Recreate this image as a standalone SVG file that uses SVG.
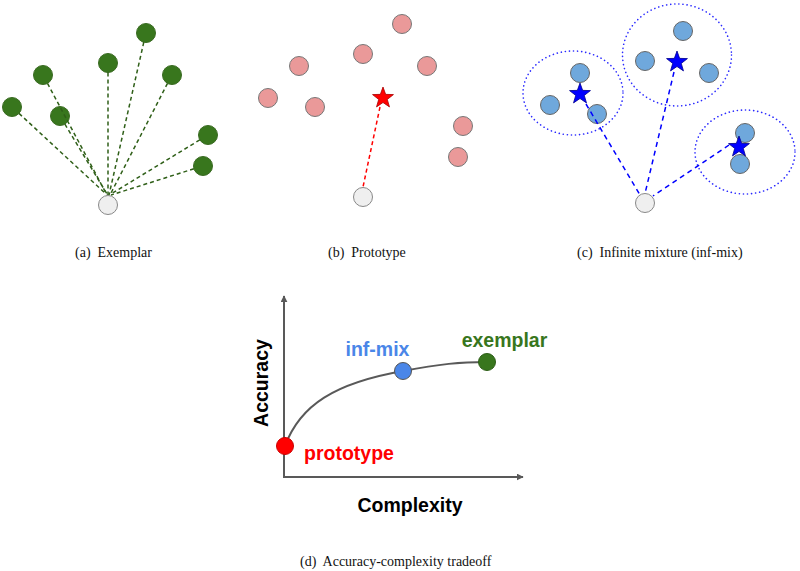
<svg xmlns="http://www.w3.org/2000/svg" width="800" height="571" viewBox="0 0 800 571">
<style>
.g{fill:#38761d;stroke:#3a6b22;stroke-width:1}
.q{fill:#efefef;stroke:#888;stroke-width:1}
.p{fill:#ea9999;stroke:#777;stroke-width:1}
.b{fill:#6fa8dc;stroke:#666;stroke-width:1}
.dg{stroke:#2f5f18;stroke-width:1.5;stroke-dasharray:4 3;fill:none}
.dr{stroke:#ff0000;stroke-width:1.5;stroke-dasharray:4 3;fill:none}
.db{stroke:#0000ff;stroke-width:1.5;stroke-dasharray:5 4;fill:none}
.el{fill:none;stroke:#2a2aff;stroke-width:1.6;stroke-dasharray:0.1 4;stroke-linecap:round}
.cap{font-family:"Liberation Serif","Times New Roman",serif;font-size:14px;fill:#111}
.lbl{font-family:"Liberation Sans",Arial,sans-serif;font-weight:bold;font-size:19.5px}
.ax{stroke:#595959;stroke-width:2;fill:none}
</style>
<defs>
<polygon id="star" points="0,-11 2.65,-3.64 10.46,-3.4 4.28,1.39 6.47,8.9 0,4.5 -6.47,8.9 -4.28,1.39 -10.46,-3.4 -2.65,-3.64"/>
<marker id="ah" viewBox="0 0 10 10" refX="9" refY="5" markerWidth="7" markerHeight="7" markerUnits="userSpaceOnUse" orient="auto">
<path d="M0,0 L10,5 L0,10 z" fill="#595959"/>
</marker>
</defs>

<!-- (a) Exemplar -->
<g id="a-nodes">
<circle class="g" cx="146" cy="33" r="9.5"/>
<circle class="g" cx="108" cy="63" r="9.5"/>
<circle class="g" cx="43" cy="75" r="9.5"/>
<circle class="g" cx="172" cy="75" r="9.5"/>
<circle class="g" cx="12" cy="107" r="9.5"/>
<circle class="g" cx="60" cy="116" r="9.5"/>
<circle class="g" cx="208" cy="135" r="9.5"/>
<circle class="g" cx="203" cy="166" r="9.5"/>
<circle class="q" cx="108" cy="205" r="9.5"/>
</g>
<g id="a-connectors">
<line class="dg" x1="143.8" y1="42.2" x2="109" y2="195"/>
<line class="dg" x1="108" y1="72.5" x2="108" y2="195"/>
<line class="dg" x1="47.5" y1="83.4" x2="107" y2="195"/>
<line class="dg" x1="167.5" y1="83.4" x2="110" y2="195"/>
<line class="dg" x1="19" y1="113.4" x2="106" y2="194"/>
<line class="dg" x1="64.9" y1="124.1" x2="107" y2="194"/>
<line class="dg" x1="199.8" y1="139.9" x2="111" y2="194"/>
<line class="dg" x1="193.9" y1="168.8" x2="111" y2="195"/>
</g>

<!-- (b) Prototype -->
<g id="b-nodes">
<circle class="p" cx="402" cy="24" r="9.5"/>
<circle class="p" cx="363" cy="54" r="9.5"/>
<circle class="p" cx="299" cy="66" r="9.5"/>
<circle class="p" cx="427" cy="66" r="9.5"/>
<circle class="p" cx="268" cy="98" r="9.5"/>
<circle class="p" cx="315" cy="107" r="9.5"/>
<circle class="p" cx="463" cy="126" r="9.5"/>
<circle class="p" cx="458" cy="157" r="9.5"/>
<circle class="q" cx="363" cy="197" r="9.5"/>
</g>
<g id="b-connectors">
<line class="dr" x1="380" y1="107" x2="363" y2="187"/>
</g>
<g id="b-star">
<use href="#star" x="383" y="98" fill="#ff0000" stroke="#a00" stroke-width="0.8"/>
</g>

<!-- (c) Infinite mixture -->
<g id="c-clusters">
<ellipse class="el" cx="573" cy="93" rx="50" ry="42"/>
<ellipse class="el" cx="677" cy="55" rx="54.5" ry="51"/>
<ellipse class="el" cx="745" cy="152" rx="50" ry="42"/>
</g>
<g id="c-nodes">
<circle class="b" cx="580" cy="73" r="9.5"/>
<circle class="b" cx="550" cy="105" r="9.5"/>
<circle class="b" cx="597" cy="114" r="9.5"/>
<circle class="b" cx="683" cy="31" r="9.5"/>
<circle class="b" cx="645" cy="61" r="9.5"/>
<circle class="b" cx="709" cy="73" r="9.5"/>
<circle class="b" cx="745" cy="133" r="9.5"/>
<circle class="b" cx="740" cy="164" r="9.5"/>
<circle class="q" cx="645" cy="203" r="9.5"/>
</g>
<g id="c-connectors">
<line class="db" x1="586" y1="104" x2="640" y2="195"/>
<line class="db" x1="674" y1="72" x2="645" y2="193.5"/>
<line class="db" x1="729" y1="145" x2="653" y2="196"/>
</g>
<g id="c-stars">
<use href="#star" x="580" y="94" fill="#0000ff" stroke="#00008b" stroke-width="0.8"/>
<use href="#star" x="677" y="62" fill="#0000ff" stroke="#00008b" stroke-width="0.8"/>
<use href="#star" x="739" y="147" fill="#0000ff" stroke="#00008b" stroke-width="0.8"/>
</g>

<!-- captions -->
<g id="captions">
<text class="cap" x="75" y="257" xml:space="preserve">(a)  Exemplar</text>
<text class="cap" x="328" y="257" xml:space="preserve">(b)  Prototype</text>
<text class="cap" x="577" y="257" xml:space="preserve">(c)  Infinite mixture (inf-mix)</text>
<text class="cap" x="300" y="566" xml:space="preserve">(d)  Accuracy-complexity tradeoff</text>
</g>

<!-- (d) tradeoff chart -->
<g id="d-axes">
<line class="ax" x1="284" y1="477" x2="284" y2="296" marker-end="url(#ah)"/>
<line class="ax" x1="283" y1="477" x2="523" y2="477" marker-end="url(#ah)"/>
</g>
<g id="d-curve">
<path class="ax" d="M285,446 C300,405 335,383 403,371 C440,364 460,362 487,362"/>
</g>
<g id="d-prototype">
<circle cx="285" cy="446" r="8.5" fill="#ff0000" stroke="#cc0000" stroke-width="1"/>
<text class="lbl" x="304" y="460" fill="#ff0000">prototype</text>
</g>
<g id="d-infmix">
<circle cx="403" cy="371" r="8.5" fill="#4a86e8" stroke="#555" stroke-width="1"/>
<text class="lbl" x="377.5" y="356" fill="#4a86e8" text-anchor="middle">inf-mix</text>
</g>
<g id="d-exemplar">
<circle cx="487" cy="362" r="8.5" fill="#38761d" stroke="#2d5e17" stroke-width="1"/>
<text class="lbl" x="504.5" y="347" fill="#38761d" text-anchor="middle">exemplar</text>
</g>
<g id="d-labels">
<text class="lbl" x="0" y="0" fill="#000" text-anchor="middle" transform="translate(268,383) rotate(-90)">Accuracy</text>
<text class="lbl" x="410" y="512" fill="#000" text-anchor="middle">Complexity</text>
</g>
</svg>
